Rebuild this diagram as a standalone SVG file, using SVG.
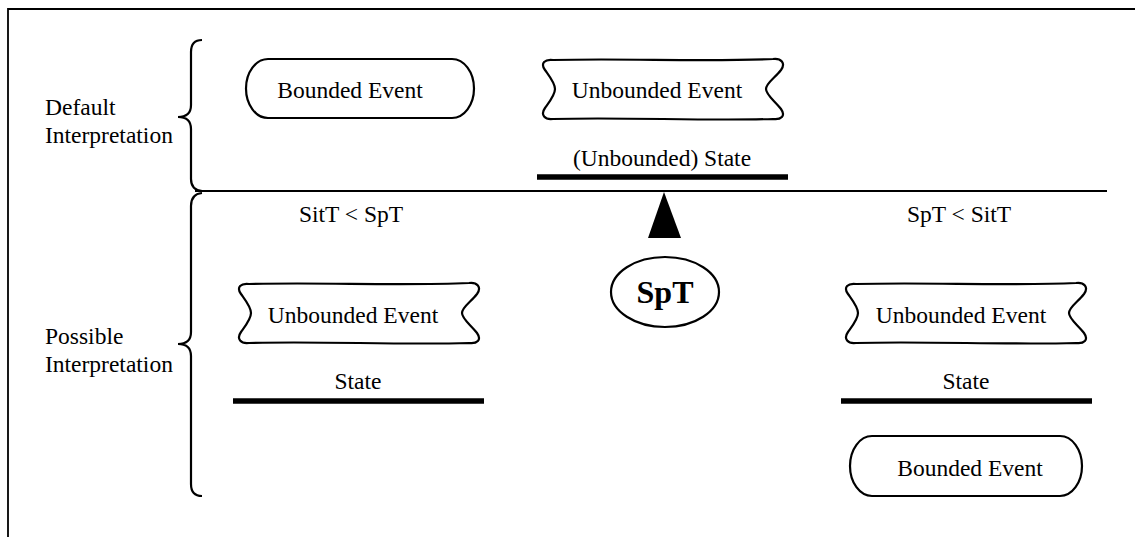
<svg xmlns="http://www.w3.org/2000/svg" width="1135" height="537" viewBox="0 0 1135 537">
<style>
text{font-family:"Liberation Serif","Times New Roman",serif;font-size:23.5px;fill:#000}
.c{text-anchor:middle}
.sh{fill:#fff;stroke:#000;stroke-width:2.2}
.br{fill:none;stroke:#000;stroke-width:2.2}
.bar{stroke:#000;stroke-width:5.5}
.ln{stroke:#000;stroke-width:1.8;fill:none}
</style>
<defs>
<path id="ue" d="M 10 1 C 80 -1 160 3 230 0 C 238 -1 243 4 238 11 C 232 19 223 24 223 30 C 223 36 232 42 238 50 C 243 57 238 61 230 60 C 160 62 80 58 10 60 C 2 61 -3 56 2 49 C 7 42 12 36 12 30 C 12 24 7 18 2 11 C -3 4 2 0 10 1 Z"/>
</defs>
<g id="frame">
<path class="ln" d="M 1135 9 L 8 9 L 8 537" stroke-width="2"/>
<line class="ln" x1="195" y1="191" x2="1107" y2="191"/>
</g>
<g id="braces">
<path class="br" d="M 202 40 Q 191 40 191 52 L 191 105 Q 191 117 178 117 Q 191 117 191 129 L 191 179 Q 191 190 202 191"/>
<path class="br" d="M 202 193 Q 191 194 191 206 L 191 332 Q 191 344 178 344 Q 191 344 191 356 L 191 484 Q 191 496 202 496"/>
</g>
<g id="labels">
<text x="45" y="115">Default</text>
<text x="45" y="143">Interpretation</text>
<text x="45" y="344">Possible</text>
<text x="45" y="372">Interpretation</text>
<text class="c" x="351" y="222">SitT &lt; SpT</text>
<text class="c" x="959" y="222">SpT &lt; SitT</text>
</g>
<g id="bounded-top">
<rect class="sh" x="246" y="59" width="228" height="59" rx="22" ry="29.5"/>
<text class="c" x="350" y="98">Bounded Event</text>
</g>
<g id="unbounded-top">
<use href="#ue" class="sh" transform="translate(543,59)"/>
<text class="c" x="657" y="98">Unbounded Event</text>
</g>
<g id="state-top">
<text class="c" x="662" y="166">(Unbounded) State</text>
<line class="bar" x1="537" y1="177" x2="788" y2="177"/>
</g>
<g id="unbounded-left">
<use href="#ue" class="sh" transform="translate(239,283)"/>
<text class="c" x="353" y="323">Unbounded Event</text>
</g>
<g id="state-left">
<text class="c" x="358" y="389">State</text>
<line class="bar" x1="233" y1="401" x2="484" y2="401"/>
</g>
<g id="unbounded-right">
<use href="#ue" class="sh" transform="translate(846,283)"/>
<text class="c" x="961" y="323">Unbounded Event</text>
</g>
<g id="state-right">
<text class="c" x="966" y="389">State</text>
<line class="bar" x1="841" y1="401" x2="1092" y2="401"/>
</g>
<g id="bounded-right">
<rect class="sh" x="850" y="436" width="232" height="60" rx="22" ry="30"/>
<text class="c" x="970" y="476">Bounded Event</text>
</g>
<g id="connectors">
<polygon points="664,192 648,238 681,238" fill="#000"/>
</g>
<g id="spt">
<ellipse class="sh" cx="665" cy="292" rx="54" ry="35"/>
<text class="c" x="665" y="303" style="font-weight:bold;font-size:32px">SpT</text>
</g>
</svg>
